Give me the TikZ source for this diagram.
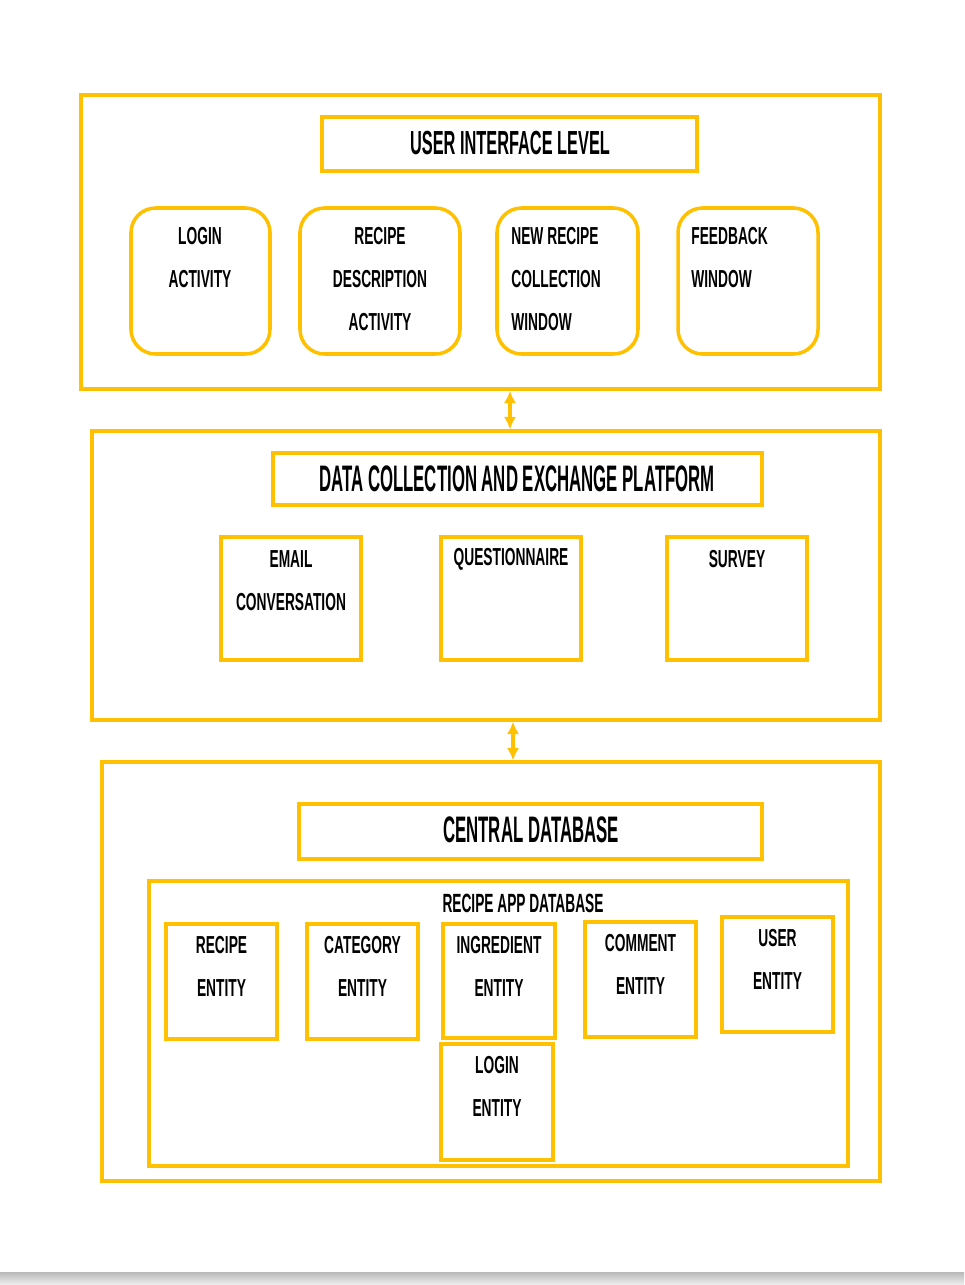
\documentclass[tikz,border=0pt]{standalone}
\usepackage{fontspec}
\setmainfont{Liberation Sans}[FakeStretch=0.56]
\newfontfamily\headfont{Liberation Sans}[FakeStretch=0.455]
\newfontfamily\uifont{Liberation Sans}[FakeStretch=0.49]
\newfontfamily\subfont{Liberation Sans}[FakeStretch=0.52]
\usetikzlibrary{fit,arrows.meta}
\definecolor{amber}{HTML}{FFC000}

\tikzset{
  ybox/.style={draw=amber, line width=2pt, inner sep=0pt},
  rbox/.style={ybox, rounded corners=14pt},
  lbl/.style={font=\bfseries\fontsize{14}{14}\selectfont, inner sep=0pt},
  ttl/.style={font=\uifont\bfseries\fontsize{19}{19}\selectfont, inner sep=0pt},
  bigttl/.style={font=\headfont\bfseries\fontsize{21}{21}\selectfont, inner sep=0pt},
  link/.style={draw=amber, line width=2pt, {Latex[length=7pt,width=7pt]}-{Latex[length=7pt,width=7pt]}}
}

\begin{document}
\begin{tikzpicture}[x=0.02cm, y=-0.02cm]

  % page and the grey strip at the bottom
  \fill[white] (0,0) rectangle (964,1285);
  \shade[top color=gray!55, bottom color=gray!12] (0,1272) rectangle (964,1285);

  % user interface level
  \node[ybox, fit={(81,95) (880,389)}] (ui) {};
  \node[ybox, fit={(322,117) (697,171)}] (uihead) {};
  \node[ttl] (uititle) at (510,143) {USER INTERFACE LEVEL};

  \foreach \nm/\xa/\xb in {login/131/270, recdesc/300/460, newrec/497/638, feedback/678/818} {
    \node[rbox, fit={(\xa,208) (\xb,354)}] (\nm) {};
  };

  \foreach \txt [count=\i] in {LOGIN,ACTIVITY}
    \node[lbl] (login-\i) at (200,193+43*\i) {\txt};
  \foreach \txt [count=\i] in {RECIPE,DESCRIPTION,ACTIVITY}
    \node[lbl] (recdesc-\i) at (380,193+43*\i) {\txt};
  \foreach \txt [count=\i] in {NEW RECIPE,COLLECTION,WINDOW}
    \node[lbl, anchor=west] (newrec-\i) at (511,193+43*\i) {\txt};
  \foreach \txt [count=\i] in {FEEDBACK,WINDOW}
    \node[lbl, anchor=west] (feedback-\i) at (691,193+43*\i) {\txt};

  % data collection and exchange platform
  \node[ybox, fit={(92,431) (880,720)}] (dc) {};
  \node[ybox, fit={(273,453) (762,505)}] (dchead) {};
  \node[bigttl] (dctitle) at (517,479) {DATA COLLECTION AND EXCHANGE PLATFORM};

  \foreach \nm/\xa/\xb in {email/221/361, quest/441/581, survey/667/807} {
    \node[ybox, fit={(\xa,537) (\xb,660)}] (\nm) {};
  };

  \foreach \txt [count=\i] in {EMAIL,CONVERSATION}
    \node[lbl] (email-\i) at (291,516+43*\i) {\txt};
  \node[lbl] (quest-1) at (511,559) {QUESTIONNAIRE};
  \node[lbl] (survey-1) at (737,559) {SURVEY};

  % central database
  \node[ybox, fit={(102,762) (880,1181)}] (db) {};
  \node[ybox, fit={(299,804) (762,859)}] (dbhead) {};
  \node[bigttl] (dbtitle) at (531,830) {CENTRAL DATABASE};

  \node[ybox, fit={(149,881) (848,1166)}] (appdb) {};
  \node[lbl, font=\subfont\bfseries\fontsize{15}{15}\selectfont] (appdbtitle) at (523,903) {RECIPE APP DATABASE};

  % entities: name/left/top/right/bottom/first line
  \foreach \nm/\xa/\ya/\xb/\yb/\txt in {recipe/166/924/277/1039/RECIPE,
      category/307/924/418/1039/CATEGORY,
      ingredient/443/924/555/1038/INGREDIENT,
      comment/585/922/696/1037/COMMENT,
      user/722/917/833/1032/USER,
      loginent/441/1044/553/1160/LOGIN} {
    \node[ybox, fit={(\xa,\ya) (\xb,\yb)}] (\nm) {};
    \node[lbl] (\nm-1) at ({(\xa+\xb)/2},\ya+21) {\txt};
    \node[lbl] (\nm-2) at ({(\xa+\xb)/2},\ya+64) {ENTITY};
  };

  % links between the levels
  \coordinate (up) at (510,0);
  \coordinate (down) at (513,0);
  \draw[link] (up |- ui.south) -- (up |- dc.north);
  \draw[link] (down |- dc.south) -- (down |- db.north);

\end{tikzpicture}
\end{document}
